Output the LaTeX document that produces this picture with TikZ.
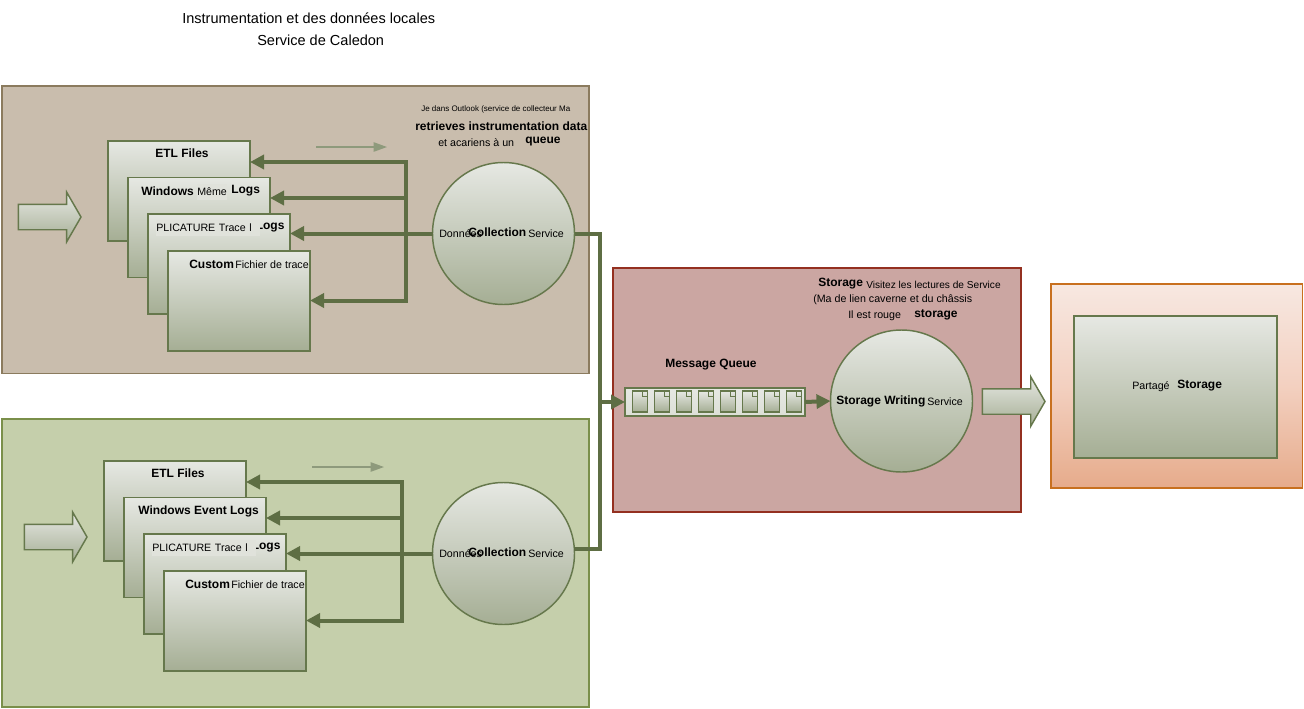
\documentclass[tikz,border=0pt]{standalone}
\usepackage{fontspec}
\setmainfont{Liberation Sans}
\usetikzlibrary{shapes.arrows, shapes.misc, arrows.meta}
\definecolor{PanelBrown}{HTML}{C9BDAD}
\definecolor{PanelBrownEdge}{HTML}{8B7B5E}
\definecolor{PanelGreen}{HTML}{C5CFAB}
\definecolor{PanelGreenEdge}{HTML}{7A8F4A}
\definecolor{PanelRed}{HTML}{CBA6A2}
\definecolor{PanelRedEdge}{HTML}{943020}
\definecolor{PanelOrangeTop}{HTML}{F7E8E1}
\definecolor{PanelOrangeMid}{HTML}{F3D0C0}
\definecolor{PanelOrangeLow}{HTML}{E6AB8B}
\definecolor{PanelOrangeEdge}{HTML}{C8701F}
\definecolor{ShapeTop}{HTML}{E6E8E3}
\definecolor{ShapeBottom}{HTML}{A5AE94}
\definecolor{ShapeEdge}{HTML}{66784C}
\definecolor{LineGreen}{HTML}{5E6E44}
\definecolor{LabelPatch}{HTML}{E0E2DB}
\tikzset{
  panel/.style={draw, line width=1pt, outer sep=0pt, inner sep=0pt},
  logbox/.style={draw=ShapeEdge, line width=1.2pt, top color=ShapeTop, bottom color=ShapeBottom, minimum width=106.5pt, minimum height=75pt, outer sep=0pt, inner sep=0pt},
  svccircle/.style={circle, draw=ShapeEdge, line width=1.1pt, top color=ShapeTop, bottom color=ShapeBottom, minimum size=106.5pt, outer sep=0pt, inner sep=0pt},
  blockarrow/.style={single arrow, draw=ShapeEdge, line width=1.1pt, top color=ShapeTop, bottom color=ShapeBottom, minimum height=47pt, inner xsep=0pt, inner ysep=9pt, single arrow head extend=9pt, single arrow tip angle=120, outer sep=0pt},
  docicon/.style={chamfered rectangle, chamfered rectangle corners=north east, chamfered rectangle xsep=3pt, chamfered rectangle ysep=3pt, draw=ShapeEdge, line width=1.2pt, top color=ShapeTop, bottom color=ShapeBottom, minimum width=11.5pt, minimum height=15.5pt, inner sep=0pt,
    path picture={\draw[ShapeEdge, line width=0.7pt] ([xshift=-3.6pt]path picture bounding box.north east) |- ([yshift=-3.6pt]path picture bounding box.north east);}},
  busline/.style={LineGreen, line width=3pt},
  busarrow/.style={LineGreen, line width=3pt, -{Triangle[length=10.5pt, width=10.5pt]}},
  thinarrow/.style={LineGreen!70, line width=1pt, -{Triangle[length=10pt, width=7pt]}},
  txt/.style={anchor=west, inner sep=0pt, font=\fontsize{8}{9}\selectfont},
  boldtxt/.style={anchor=west, inner sep=0pt, font=\fontsize{9}{10}\selectfont\bfseries},
  patchtxt/.style={txt, fill=LabelPatch, inner ysep=3pt},
}
\begin{document}
\begin{tikzpicture}[x=0.75pt, y=-0.75pt]
\useasboundingbox (0,0) rectangle (1304,708);

% Title
\node[anchor=west, inner sep=0pt, font=\fontsize{10.9}{12}\selectfont] (titleA) at (182,18) {Instrumentation et des données locales};
\node[anchor=west, inner sep=0pt, font=\fontsize{10.9}{12}\selectfont] (titleB) at (257,40) {Service de Caledon};

% Panels
\node[panel, draw=PanelBrownEdge, fill=PanelBrown, minimum width=440pt, minimum height=215.5pt] (panelA) at (295.5,229.5) {};
\node[panel, draw=PanelGreenEdge, fill=PanelGreen, minimum width=440pt, minimum height=216pt] (panelB) at (295.5,563) {};
\node[panel, draw=PanelRedEdge, fill=PanelRed, minimum width=306pt, minimum height=183pt] (panelC) at (817,390) {};
\node[panel, draw=PanelOrangeEdge, top color=PanelOrangeTop, bottom color=PanelOrangeLow, middle color=PanelOrangeMid, minimum width=188.5pt, minimum height=153pt] (panelD) at (1176.5,386) {};

% Upper group
\node[blockarrow] (inA) at (46,217) {};
\node[logbox] (etlA) at (179,191) {};
\node[logbox] (winA) at (199,227.5) {};
\node[logbox] (plicA) at (219,264) {};
\node[logbox] (custA) at (239,301) {};
\node[svccircle] (collA) at (503.5,233.5) {};

% Lower group
\node[blockarrow] (inB) at (52,537) {};
\node[logbox] (etlB) at (175,511) {};
\node[logbox] (winB) at (195,547.5) {};
\node[logbox] (plicB) at (215,584) {};
\node[logbox] (custB) at (235,621) {};
\node[svccircle] (collB) at (503.5,553.5) {};

% Storage side
\node[draw=ShapeEdge, line width=1.5pt, top color=ShapeTop, bottom color=ShapeTop!85!ShapeBottom, minimum width=135pt, minimum height=20.5pt, outer sep=0pt, inner sep=0pt] (queue) at (715,402) {};
\node[docicon] (docA) at (640,401.5) {};
\node[docicon] (docB) at (662,401.5) {};
\node[docicon] (docC) at (684,401.5) {};
\node[docicon] (docD) at (706,401.5) {};
\node[docicon] (docE) at (728,401.5) {};
\node[docicon] (docF) at (750,401.5) {};
\node[docicon] (docG) at (772,401.5) {};
\node[docicon] (docH) at (794,401.5) {};
\node[svccircle] (writer) at (901.5,401) {};
\node[blockarrow] (outArrow) at (1010,401.5) {};
\node[logbox, minimum width=152pt, minimum height=106.5pt] (shared) at (1175.5,387) {};

% Free ends
\coordinate (busAtop) at (406,162);
\coordinate (busAwin) at (406,198);
\coordinate (busAbot) at (406,300.5);
\coordinate (busBtop) at (402,482);
\coordinate (busBwin) at (402,518);
\coordinate (busBbot) at (402,620.5);
\coordinate (trunkIn) at (600,402);
\coordinate (flowAs) at (316,147);
\coordinate (flowAe) at (387,147);
\coordinate (flowBs) at (312,467);
\coordinate (flowBe) at (384,467);

% Lines
\draw[busline, line cap=rect] (busAtop) -- (busAbot);
\draw[busarrow] (busAtop) -- (busAtop -| etlA.east);
\draw[busarrow] (busAwin) -- (busAwin -| winA.east);
\draw[busarrow] (collA.west) -- (collA.west -| plicA.east);
\draw[busarrow] (busAbot) -- (busAbot -| custA.east);
\draw[busline, line cap=rect] (busBtop) -- (busBbot);
\draw[busarrow] (busBtop) -- (busBtop -| etlB.east);
\draw[busarrow] (busBwin) -- (busBwin -| winB.east);
\draw[busarrow] (collB.west) -- (collB.west -| plicB.east);
\draw[busarrow] (busBbot) -- (busBbot -| custB.east);
\draw[busline] (collA.east) -| (trunkIn);
\draw[busline] (collB.4) -| (trunkIn);
\draw[busarrow] (trunkIn) -- (queue.west);
\draw[busarrow] (queue.east) -- (writer.west);
\draw[thinarrow] (flowAs) -- (flowAe);
\draw[thinarrow] (flowBs) -- (flowBe);

% Upper group labels
\node[txt, font=\fontsize{6}{7}\selectfont] (noteA) at (421,109) {Je dans Outlook (service de collecteur Ma};
\node[boldtxt] (noteB) at (415,126) {retrieves instrumentation data};
\node[txt] (noteC) at (438,143) {et acariens à un};
\node[boldtxt] (noteD) at (525,142) {queue};
\node[boldtxt] (etlAname) at (155,153.5) {ETL Files};
\node[boldtxt] (winAname) at (141,191) {Windows};
\node[patchtxt] (winAmid) at (197,192) {Même};
\node[boldtxt] (winAlogs) at (231,191) {Logs};
\node[boldtxt] (plicAlogs) at (255.5,227) {Logs};
\node[patchtxt, text width=78pt] (plicAname) at (156,228) {PLICATURE Trace l};
\node[boldtxt] (custAname) at (189,264) {Custom};
\node[txt] (custAfile) at (235,265) {Fichier de trace};
\node[txt] (collAa) at (439,234) {Données};
\node[boldtxt] (collAb) at (468,232) {Collection};
\node[txt] (collAc) at (528,234) {Service};

% Lower group labels
\node[boldtxt] (etlBname) at (151,473.5) {ETL Files};
\node[boldtxt] (winBname) at (138,511) {Windows Event Logs};
\node[boldtxt] (plicBlogs) at (251.5,547) {Logs};
\node[patchtxt, text width=78pt] (plicBname) at (152,548) {PLICATURE Trace l};
\node[boldtxt] (custBname) at (185,584) {Custom};
\node[txt] (custBfile) at (231,585) {Fichier de trace};
\node[txt] (collBa) at (439,554) {Données};
\node[boldtxt] (collBb) at (468,552) {Collection};
\node[txt] (collBc) at (528,554) {Service};

% Storage labels
\node[boldtxt] (storeA) at (818,284) {Storage};
\node[txt, font=\fontsize{7.6}{9}\selectfont] (storeB) at (866,285) {Visitez les lectures de Service};
\node[txt] (storeC) at (813,300) {(Ma de lien caverne et du châssis};
\node[txt] (storeD) at (848,316) {Il est rouge};
\node[boldtxt] (storeE) at (914,315) {storage};
\node[boldtxt] (queueName) at (665,365) {Message Queue};
\node[boldtxt] (writerA) at (836,401) {Storage Writing};
\node[txt] (writerB) at (927,402) {Service};
\node[txt] (sharedA) at (1132,387) {Partagé};
\node[boldtxt] (sharedB) at (1177,385.5) {Storage};
\end{tikzpicture}
\end{document}
